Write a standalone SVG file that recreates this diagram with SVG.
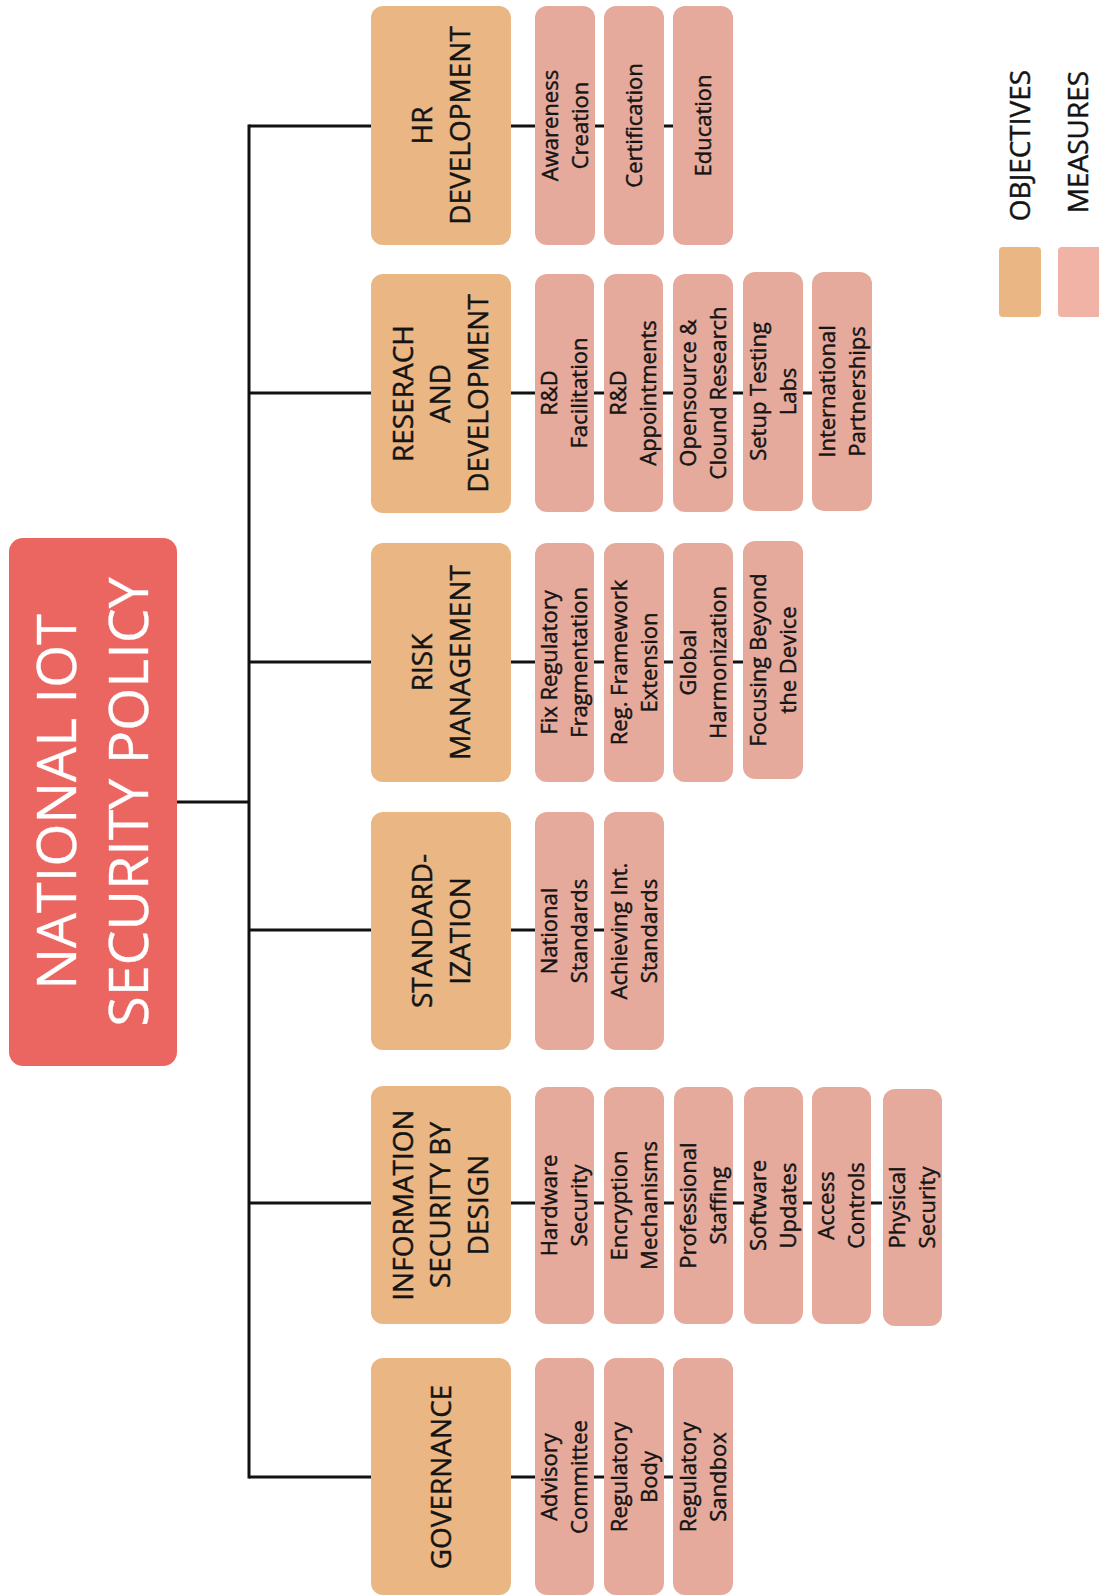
<svg xmlns="http://www.w3.org/2000/svg" width="1099" height="1596" viewBox="0 0 1099 1596">
<style>
.bg{fill:#ffffff}
.root{fill:#EB6561}
.obj{fill:#EAB684}
.mea{fill:#E6AA9D}
.leg2{fill:#F1B3A5}
.ln{stroke:#111;stroke-width:3;fill:none}
text{font-family:"Open Sans","Liberation Sans",sans-serif;fill:#141414;text-anchor:middle;stroke:#141414;stroke-width:0.45}
.tt{font-size:55.5px;fill:#ffffff;stroke:#ffffff;stroke-width:0.3}
.ot{font-size:28px}
.mt{font-size:22px}
.lt{font-size:28px}
</style>
<rect class="bg" x="0" y="0" width="1099" height="1596"/>
<g id="connectors">
<line class="ln" x1="177" y1="802" x2="249" y2="802"/>
<line class="ln" x1="249" y1="124.5" x2="249" y2="1478.5"/>
<line class="ln" x1="249" y1="126" x2="674" y2="126"/>
<line class="ln" x1="249" y1="393" x2="812" y2="393"/>
<line class="ln" x1="249" y1="662" x2="743" y2="662"/>
<line class="ln" x1="249" y1="930" x2="604" y2="930"/>
<line class="ln" x1="249" y1="1203" x2="882" y2="1203"/>
<line class="ln" x1="249" y1="1477" x2="674" y2="1477"/>
</g>
<g id="root">
<rect class="root" x="9" y="538" width="168" height="528" rx="14"/>
<text class="tt" transform="translate(93,802) rotate(-90)"><tspan x="0" y="-17">NATIONAL IOT</tspan><tspan x="0" y="55">SECURITY POLICY</tspan></text>
</g>
<g id="hr">
<rect class="obj" x="371" y="6" width="140" height="239" rx="12"/>
<text class="ot" transform="translate(441,125.5) rotate(-90)"><tspan x="0" y="-9">HR</tspan><tspan x="0" y="29">DEVELOPMENT</tspan></text>
</g>
<g id="hr-m1"><rect class="mea" x="535" y="6" width="60" height="239" rx="12"/><text class="mt" transform="translate(565,125.5) rotate(-90)"><tspan x="0" y="-7.5">Awareness</tspan><tspan x="0" y="22.5">Creation</tspan></text></g>
<g id="hr-m2"><rect class="mea" x="604" y="6" width="60" height="239" rx="12"/><text class="mt" transform="translate(634,125.5) rotate(-90)"><tspan x="0" y="7.5">Certification</tspan></text></g>
<g id="hr-m3"><rect class="mea" x="673" y="6" width="60" height="239" rx="12"/><text class="mt" transform="translate(703,125.5) rotate(-90)"><tspan x="0" y="7.5">Education</tspan></text></g>

<g id="rd">
<rect class="obj" x="371" y="274" width="140" height="239" rx="12"/>
<text class="ot" transform="translate(440,393.5) rotate(-90)"><tspan x="0" y="-27.5">RESERACH</tspan><tspan x="0" y="10">AND</tspan><tspan x="0" y="47.5">DEVELOPMENT</tspan></text>
</g>
<g id="rd-m1"><rect class="mea" x="535" y="274" width="59" height="238" rx="12"/><text class="mt" transform="translate(564.5,393) rotate(-90)"><tspan x="0" y="-7.5">R&amp;D</tspan><tspan x="0" y="22.5">Facilitation</tspan></text></g>
<g id="rd-m2"><rect class="mea" x="604" y="274" width="59" height="238" rx="12"/><text class="mt" transform="translate(633.5,393) rotate(-90)"><tspan x="0" y="-7.5">R&amp;D</tspan><tspan x="0" y="22.5">Appointments</tspan></text></g>
<g id="rd-m3"><rect class="mea" x="673" y="274" width="60" height="238" rx="12"/><text class="mt" transform="translate(703,393) rotate(-90)"><tspan x="0" y="-7.5">Opensource &amp;</tspan><tspan x="0" y="22.5">Clound Research</tspan></text></g>
<g id="rd-m4"><rect class="mea" x="743" y="272" width="60" height="239" rx="12"/><text class="mt" transform="translate(773,391.5) rotate(-90)"><tspan x="0" y="-7.5">Setup Testing</tspan><tspan x="0" y="22.5">Labs</tspan></text></g>
<g id="rd-m5"><rect class="mea" x="812" y="272" width="60" height="239" rx="12"/><text class="mt" transform="translate(842,391.5) rotate(-90)"><tspan x="0" y="-7.5">International</tspan><tspan x="0" y="22.5">Partnerships</tspan></text></g>

<g id="risk">
<rect class="obj" x="371" y="543" width="140" height="239" rx="12"/>
<text class="ot" transform="translate(441,662.5) rotate(-90)"><tspan x="0" y="-9">RISK</tspan><tspan x="0" y="29">MANAGEMENT</tspan></text>
</g>
<g id="risk-m1"><rect class="mea" x="535" y="543" width="59" height="239" rx="12"/><text class="mt" transform="translate(564.5,662.5) rotate(-90)"><tspan x="0" y="-7.5">Fix Regulatory</tspan><tspan x="0" y="22.5">Fragmentation</tspan></text></g>
<g id="risk-m2"><rect class="mea" x="604" y="543" width="60" height="239" rx="12"/><text class="mt" transform="translate(634,662.5) rotate(-90)"><tspan x="0" y="-7.5">Reg. Framework</tspan><tspan x="0" y="22.5">Extension</tspan></text></g>
<g id="risk-m3"><rect class="mea" x="673" y="543" width="60" height="239" rx="12"/><text class="mt" transform="translate(703,662.5) rotate(-90)"><tspan x="0" y="-7.5">Global</tspan><tspan x="0" y="22.5">Harmonization</tspan></text></g>
<g id="risk-m4"><rect class="mea" x="743" y="541" width="60" height="238" rx="12"/><text class="mt" transform="translate(773,660) rotate(-90)"><tspan x="0" y="-7.5">Focusing Beyond</tspan><tspan x="0" y="22.5">the Device</tspan></text></g>

<g id="std">
<rect class="obj" x="371" y="812" width="140" height="238" rx="12"/>
<text class="ot" transform="translate(441,931) rotate(-90)"><tspan x="0" y="-9">STANDARD-</tspan><tspan x="0" y="29">IZATION</tspan></text>
</g>
<g id="std-m1"><rect class="mea" x="535" y="812" width="59" height="238" rx="12"/><text class="mt" transform="translate(564.5,931) rotate(-90)"><tspan x="0" y="-7.5">National</tspan><tspan x="0" y="22.5">Standards</tspan></text></g>
<g id="std-m2"><rect class="mea" x="604" y="812" width="60" height="238" rx="12"/><text class="mt" transform="translate(634,931) rotate(-90)"><tspan x="0" y="-7.5">Achieving Int.</tspan><tspan x="0" y="22.5">Standards</tspan></text></g>

<g id="infosec">
<rect class="obj" x="371" y="1086" width="140" height="238" rx="12"/>
<text class="ot" transform="translate(440,1205) rotate(-90)"><tspan x="0" y="-27.5">INFORMATION</tspan><tspan x="0" y="10">SECURITY BY</tspan><tspan x="0" y="47.5">DESIGN</tspan></text>
</g>
<g id="is-m1"><rect class="mea" x="535" y="1087" width="59" height="237" rx="12"/><text class="mt" transform="translate(564.5,1205.5) rotate(-90)"><tspan x="0" y="-7.5">Hardware</tspan><tspan x="0" y="22.5">Security</tspan></text></g>
<g id="is-m2"><rect class="mea" x="604" y="1087" width="60" height="237" rx="12"/><text class="mt" transform="translate(634,1205.5) rotate(-90)"><tspan x="0" y="-7.5">Encryption</tspan><tspan x="0" y="22.5">Mechanisms</tspan></text></g>
<g id="is-m3"><rect class="mea" x="674" y="1087" width="59" height="237" rx="12"/><text class="mt" transform="translate(703.5,1205.5) rotate(-90)"><tspan x="0" y="-7.5">Professional</tspan><tspan x="0" y="22.5">Staffing</tspan></text></g>
<g id="is-m4"><rect class="mea" x="744" y="1087" width="59" height="237" rx="12"/><text class="mt" transform="translate(773.5,1205.5) rotate(-90)"><tspan x="0" y="-7.5">Software</tspan><tspan x="0" y="22.5">Updates</tspan></text></g>
<g id="is-m5"><rect class="mea" x="812" y="1087" width="59" height="237" rx="12"/><text class="mt" transform="translate(841.5,1205.5) rotate(-90)"><tspan x="0" y="-7.5">Access</tspan><tspan x="0" y="22.5">Controls</tspan></text></g>
<g id="is-m6"><rect class="mea" x="883" y="1089" width="59" height="237" rx="12"/><text class="mt" transform="translate(912.5,1207.5) rotate(-90)"><tspan x="0" y="-7.5">Physical</tspan><tspan x="0" y="22.5">Security</tspan></text></g>

<g id="gov">
<rect class="obj" x="371" y="1358" width="140" height="237" rx="12"/>
<text class="ot" transform="translate(441,1477) rotate(-90)"><tspan x="0" y="10">GOVERNANCE</tspan></text>
</g>
<g id="gov-m1"><rect class="mea" x="535" y="1358" width="59" height="237" rx="12"/><text class="mt" transform="translate(564.5,1477) rotate(-90)"><tspan x="0" y="-7.5">Advisory</tspan><tspan x="0" y="22.5">Committee</tspan></text></g>
<g id="gov-m2"><rect class="mea" x="604" y="1358" width="60" height="237" rx="12"/><text class="mt" transform="translate(634,1477) rotate(-90)"><tspan x="0" y="-7.5">Regulatory</tspan><tspan x="0" y="22.5">Body</tspan></text></g>
<g id="gov-m3"><rect class="mea" x="673" y="1358" width="60" height="237" rx="12"/><text class="mt" transform="translate(703,1477) rotate(-90)"><tspan x="0" y="-7.5">Regulatory</tspan><tspan x="0" y="22.5">Sandbox</tspan></text></g>

<g id="legend">
<text class="lt" transform="translate(1020,145.5) rotate(-90)"><tspan x="0" y="10">OBJECTIVES</tspan></text>
<text class="lt" transform="translate(1078,142) rotate(-90)"><tspan x="0" y="10">MEASURES</tspan></text>
<rect class="obj" x="999" y="247" width="42" height="70" rx="4"/>
<rect class="leg2" x="1058" y="247" width="50" height="70" rx="4"/>
</g>
</svg>
